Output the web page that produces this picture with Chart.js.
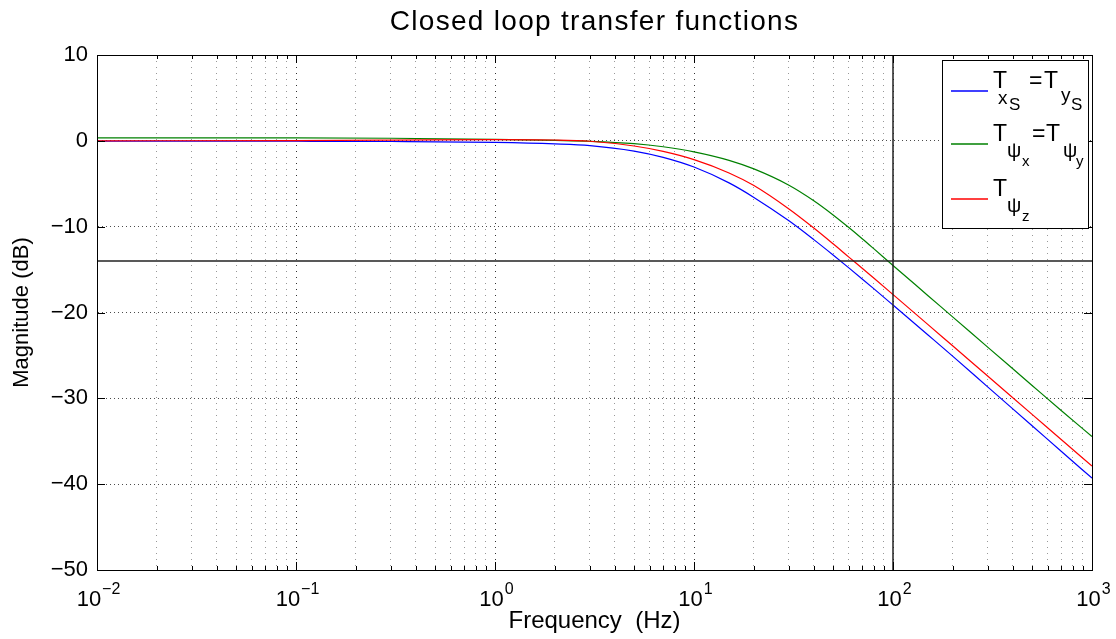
<!DOCTYPE html>
<html><head><meta charset="utf-8">
<script src="https://cdn.jsdelivr.net/npm/chart.js@4/dist/chart.umd.min.js"></script>
<style>html,body{margin:0;padding:0;background:#fff;}</style>
</head><body>
<canvas id="c" width="1116" height="639"></canvas>
<script>
// ---- data ----
const freqs      = [0.01, 0.1, 0.3, 1, 2, 3, 5, 7, 10, 15, 20, 30, 40, 50, 60, 70, 80, 100, 150, 200, 300, 500, 700, 1000];
const magTxs     = [-0.03, -0.05, -0.08, -0.18, -0.35, -0.55, -1.19, -1.92, -3.05, -4.90, -6.59, -9.32, -11.51, -13.30, -14.80, -16.09, -17.22, -19.13, -22.62, -25.11, -28.69, -33.19, -36.16, -39.30];
const magTpsiXY  = [0.35, 0.34, 0.30, 0.18, 0.05, -0.05, -0.32, -0.69, -1.28, -2.27, -3.27, -5.17, -6.98, -8.63, -10.10, -11.40, -12.56, -14.52, -18.04, -20.54, -24.06, -28.50, -31.42, -34.45];
const magTpsiZ   = [0.0, 0.03, 0.08, 0.15, 0.10, -0.05, -0.60, -1.23, -2.19, -3.74, -5.21, -7.94, -10.16, -12.00, -13.55, -14.85, -15.99, -17.91, -21.41, -23.91, -27.43, -31.87, -34.79, -37.89];
const refLevel   = -14;   // horizontal marker (dB)
const refFreq    = 100;   // vertical marker (Hz)
const yTicks     = [-50, -40, -30, -20, -10, 0, 10];
const xDecades   = [-2, -1, 0, 1, 2, 3];
const titleText  = 'Closed loop transfer functions';
const xTitle     = 'Frequency  (Hz)';
const yTitle     = 'Magnitude (dB)';

const COLORS = {blue: '#0000ff', green: '#008000', red: '#ff0000', ref: '#222222'};
const FONT = "'Liberation Sans', Arial, Helvetica, sans-serif";
const xMin = Math.pow(10, xDecades[0]), xMax = Math.pow(10, xDecades[xDecades.length - 1]);
const yMin = yTicks[0], yMax = yTicks[yTicks.length - 1];

// x tick values: 1..9 per decade
const xTickValues = [];
for (let i = 0; i < xDecades.length; i++) {
  const d = xDecades[i];
  if (i === xDecades.length - 1) { xTickValues.push(Math.pow(10, d)); break; }
  for (let m = 1; m <= 9; m++) xTickValues.push(m * Math.pow(10, d));
}
const isDecade = v => Math.abs(Math.log10(v) - Math.round(Math.log10(v))) < 1e-9;

const pts = arr => freqs.map((f, i) => ({x: f, y: arr[i]}));

function spaced(ctx, text, x, y, sp, align) {
  if ('letterSpacing' in ctx) ctx.letterSpacing = sp + 'px';
  ctx.textAlign = align;
  ctx.fillText(text, x, y);
  if ('letterSpacing' in ctx) ctx.letterSpacing = '0px';
}

const decor = {
  id: 'decor',
  afterDraw(chart) {
    const {ctx, chartArea: a, scales: {x, y}} = chart;
    ctx.save();
    ctx.setLineDash([]);
    // box
    ctx.strokeStyle = '#000'; ctx.lineWidth = 1;
    ctx.beginPath();
    ctx.rect(Math.round(a.left) + 0.5, Math.round(a.top) + 0.5, Math.round(a.right - a.left), Math.round(a.bottom - a.top));
    ctx.stroke();
    // inward ticks
    ctx.beginPath();
    xTickValues.forEach(v => {
      const px = Math.round(x.getPixelForValue(v)) + 0.5;
      const L = isDecade(v) ? 8 : 4;
      ctx.moveTo(px, a.bottom); ctx.lineTo(px, a.bottom - L);
      ctx.moveTo(px, a.top); ctx.lineTo(px, a.top + L);
    });
    yTicks.forEach(v => {
      const py = Math.round(y.getPixelForValue(v)) + 0.5;
      ctx.moveTo(a.left, py); ctx.lineTo(a.left + 8, py);
      ctx.moveTo(a.right, py); ctx.lineTo(a.right - 8, py);
    });
    ctx.stroke();

    // x tick labels 10^n
    ctx.fillStyle = '#000';
    ctx.textBaseline = 'alphabetic';
    xDecades.forEach(d => {
      const px = x.getPixelForValue(Math.pow(10, d));
      const base = '10', exp = (d < 0 ? '\u2212' : '') + Math.abs(d);
      ctx.font = '22px ' + FONT; const wb = ctx.measureText(base).width;
      ctx.font = '16px ' + FONT; const we = ctx.measureText(exp).width;
      const x0 = px - (wb + we) / 2 + 1;
      ctx.font = '22px ' + FONT; ctx.textAlign = 'left';
      ctx.fillText(base, x0, 606);
      ctx.font = '16px ' + FONT;
      ctx.fillText(exp, x0 + wb + 1, 594);
    });

    // title
    ctx.font = '28px ' + FONT;
    spaced(ctx, titleText, (a.left + a.right) / 2, 30, 1.3, 'center');

    // legend
    const lx = 942, ly = 60, lw = 146, lh = 168;
    ctx.fillStyle = '#fff'; ctx.fillRect(lx, ly, lw, lh);
    ctx.strokeStyle = '#000'; ctx.lineWidth = 1;
    ctx.strokeRect(lx + 0.5, ly + 0.5, lw, lh);
    const entries = [
      {color: COLORS.blue, y: 91, parts: [['T', 0, 23, 0], ['x', 5, 19, 16], ['S', 16, 17, 22], ['=', 36, 23, 0], ['T', 51, 23, 0], ['y', 68, 19, 13], ['S', 78, 17, 22]]},
      {color: COLORS.green, y: 144, parts: [['T', 0, 23, 0], ['\u03C8', 14, 20, 16], ['x', 29, 15, 25], ['=', 39, 23, 0], ['T', 53, 23, 0], ['\u03C8', 70, 20, 16], ['y', 83, 15, 25]]},
      {color: COLORS.red, y: 199, parts: [['T', 0, 23, 0], ['\u03C8', 14, 20, 16], ['z', 29, 15, 25]]}
    ];
    entries.forEach(e => {
      ctx.beginPath();
      ctx.strokeStyle = e.color; ctx.lineWidth = 1.5;
      ctx.moveTo(951, e.y); ctx.lineTo(988, e.y);
      ctx.stroke();
      ctx.fillStyle = '#000'; ctx.textAlign = 'left';
      const baseY = e.y - 3;
      e.parts.forEach(([t, dx, sz, dy]) => {
        ctx.font = sz + 'px ' + FONT;
        ctx.fillText(t, 993 + dx, baseY + dy);
      });
    });
    ctx.restore();
  }
};

new Chart(document.getElementById('c'), {
  type: 'line',
  data: {
    datasets: [
      {label: 'Txs=Tys', data: pts(magTxs), borderColor: COLORS.blue, borderWidth: 1.2, pointRadius: 0, cubicInterpolationMode: 'monotone', order: 3},
      {label: 'Tpsix=Tpsiy', data: pts(magTpsiXY), borderColor: COLORS.green, borderWidth: 1.2, pointRadius: 0, cubicInterpolationMode: 'monotone', order: 2},
      {label: 'Tpsiz', data: pts(magTpsiZ), borderColor: COLORS.red, borderWidth: 1.2, pointRadius: 0, cubicInterpolationMode: 'monotone', order: 1},
      {label: 'level', data: [{x: xMin, y: refLevel}, {x: xMax, y: refLevel}], borderColor: COLORS.ref, borderWidth: 1.5, pointRadius: 0, order: 0},
      {label: 'freq', data: [{x: refFreq, y: yMin}, {x: refFreq, y: yMax}], borderColor: COLORS.ref, borderWidth: 1.5, pointRadius: 0, order: 0}
    ]
  },
  options: {
    responsive: false, animation: false, events: [],
    layout: {padding: {left: 0, right: 24, top: 55, bottom: 0}},
    plugins: {legend: {display: false}, tooltip: {enabled: false}, title: {display: false}},
    scales: {
      x: {
        type: 'logarithmic', min: xMin, max: xMax,
        afterBuildTicks: s => { s.ticks = xTickValues.map(v => ({value: v})); },
        afterFit: s => { s.height = 69; },
        ticks: {callback: () => '', autoSkip: false, maxRotation: 0, minRotation: 0},
        grid: {color: c => (c.tick && isDecade(c.tick.value)) ? 'rgba(0,0,0,0.8)' : 'rgba(0,0,0,0.4)', lineWidth: 1, drawTicks: false},
        border: {display: true, color: '#000', width: 1, dash: [1, 5]},
        title: {display: true, text: xTitle, color: '#000', font: {family: FONT, size: 24}, padding: {top: 0, bottom: 3}}
      },
      y: {
        min: yMin, max: yMax,
        afterBuildTicks: s => { s.ticks = yTicks.map(v => ({value: v})); },
        afterFit: s => { s.width = 97; },
        ticks: {callback: v => String(v).replace('-', '\u2212'), color: '#000', font: {family: FONT, size: 22}, padding: 9},
        grid: {color: 'rgba(0,0,0,0.7)', lineWidth: 1, drawTicks: false},
        border: {display: true, color: '#000', width: 1, dash: [1, 3]},
        title: {display: true, text: yTitle, color: '#000', font: {family: FONT, size: 22}, padding: {top: 9, bottom: 0}}
      }
    }
  },
  plugins: [decor]
});
</script>
</body></html>
